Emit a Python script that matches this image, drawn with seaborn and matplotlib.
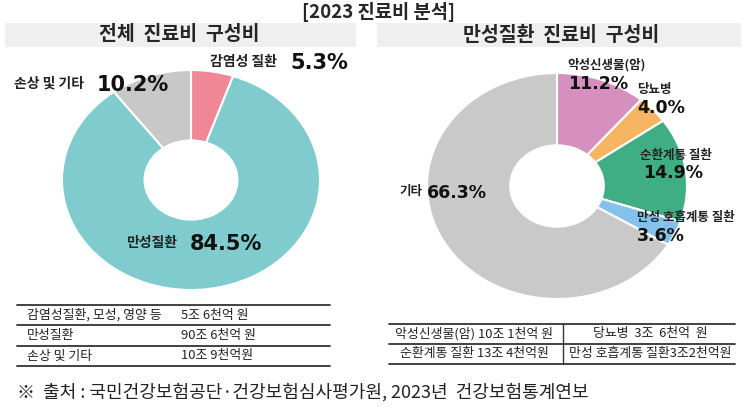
import numpy as np
import matplotlib
matplotlib.use("Agg")
import matplotlib.pyplot as plt
from matplotlib.patches import Rectangle
import seaborn as sns

# ========== data ==========
title = "[2023 진료비 분석]"
left_header = "전체  진료비  구성비"
right_header = "만성질환  진료비  구성비"

total_labels = ["감염성 질환", "만성질환", "손상 및 기타"]
total_share = [5.3, 84.5, 10.2]

chronic_labels = ["악성신생물(암)", "당뇨병", "순환계통 질환", "만성 호흡계통 질환", "기타"]
chronic_share = [11.2, 4.0, 14.9, 3.6, 66.3]

total_table_names = ["감염성질환, 모성, 영양 등", "만성질환", "손상 및 기타"]
total_table_costs = ["5조 6천억 원", "90조 6천억 원", "10조 9천억원"]

chronic_table_left = ["악성신생물(암) 10조 1천억 원", "순환계통 질환 13조 4천억원"]
chronic_table_right = ["당뇨병  3조  6천억  원", "만성 호흡계통 질환3조2천억원"]

source_note = "※  출처 : 국민건강보험공단·건강보험심사평가원, 2023년  건강보험통계연보"

# ========== style ==========
sns.set_theme(style="white")
plt.rcParams['font.family'] = ['Noto Sans CJK KR', 'DejaVu Sans']
pct_font = ['DejaVu Sans']

total_colors = ["#ef8795", "#7fcbcd", "#c8c8c8"]
chronic_colors = ["#d690c0", "#f5b562", "#3fae84", "#85c1ea", "#c9c9c9"]

W, H = 745, 407
fig = plt.figure(figsize=(W / 100, H / 100), dpi=100)
fig.patch.set_facecolor("white")


def box(x0, y0, x1, y1):
    # pixel box (top-left origin) -> figure fraction rect
    return [x0 / W, 1 - y1 / H, (x1 - x0) / W, (y1 - y0) / H]


def donut(rect, values, colors):
    ax = fig.add_axes(rect)
    ax.pie(values, colors=colors, startangle=90, counterclock=False,
           wedgeprops=dict(width=0.64, edgecolor="white", linewidth=1.5))
    ax.set_xlim(-1, 1)
    ax.set_ylim(-1, 1)
    ax.set_aspect("auto")
    ax.axis("off")
    return ax


donut(box(62, 70, 320, 290), total_share, total_colors)
donut(box(427, 73, 687, 299), chronic_share, chronic_colors)

# overlay in pixel coordinates for headers, labels and tables
ov = fig.add_axes([0, 0, 1, 1])
ov.set_xlim(0, W)
ov.set_ylim(H, 0)
ov.axis("off")
ov.patch.set_alpha(0)

ov.text(W / 2 + 6, 12, title, ha="center", va="center", fontsize=13.5, fontweight="bold")
ov.add_patch(Rectangle((5, 23), 351, 24, facecolor="#efefef", edgecolor="none"))
ov.add_patch(Rectangle((377, 23), 364, 24, facecolor="#efefef", edgecolor="none"))
ov.text(179, 35, left_header, ha="center", va="center", fontsize=14, fontweight="bold")
ov.text(561, 35, right_header, ha="center", va="center", fontsize=14, fontweight="bold")

# left donut labels: (label x, pct x, y)
left_pos = [(210, 290, 62), (126, 190, 243), (14, 97, 84)]
for name, v, (lx, px, y) in zip(total_labels, total_share, left_pos):
    ov.text(lx, y, name, ha="left", va="center", fontsize=10, fontweight="bold", color="#222222")
    ov.text(px, y + 1, f"{v}%", ha="left", va="center", fontsize=15, fontweight="bold",
            color="#111111", family=pct_font)

# right donut labels: (label x, label y, pct x, pct y)
right_pos = [(567, 65, 568, 83), (637, 89, 637, 107), (640, 155, 643, 172),
             (637, 217, 637, 235), (400, 192, 427, 192)]
for name, v, (lx, ly, px, py) in zip(chronic_labels, chronic_share, right_pos):
    ov.text(lx, ly, name, ha="left", va="center", fontsize=9, fontweight="bold", color="#222222")
    ov.text(px, py + 1, f"{v}%", ha="left", va="center", fontsize=12.5, fontweight="bold",
            color="#111111", family=pct_font)

# left table
for yl in [305, 325, 346, 366]:
    ov.plot([17, 330], [yl, yl], color="#333333", lw=1.3)
for i, (n, c) in enumerate(zip(total_table_names, total_table_costs)):
    yc = [315, 336, 356][i]
    ov.text(27, yc, n, ha="left", va="center", fontsize=9.3, color="#222222")
    ov.text(181, yc, c, ha="left", va="center", fontsize=9.3, color="#222222")

# right table
for yl in [324, 344, 364]:
    ov.plot([389, 735], [yl, yl], color="#333333", lw=1.3)
ov.plot([563, 563], [324, 364], color="#333333", lw=1.0)
for i, (a, b) in enumerate(zip(chronic_table_left, chronic_table_right)):
    yc = [334, 354][i]
    ov.text(474, yc, a, ha="center", va="center", fontsize=9.3, color="#222222")
    ov.text(650, yc, b, ha="center", va="center", fontsize=9.3, color="#222222")

ov.text(17, 392, source_note, ha="left", va="center", fontsize=13, color="#222222")

fig.savefig("out.png", dpi=100, facecolor="white")
plt.close(fig)
